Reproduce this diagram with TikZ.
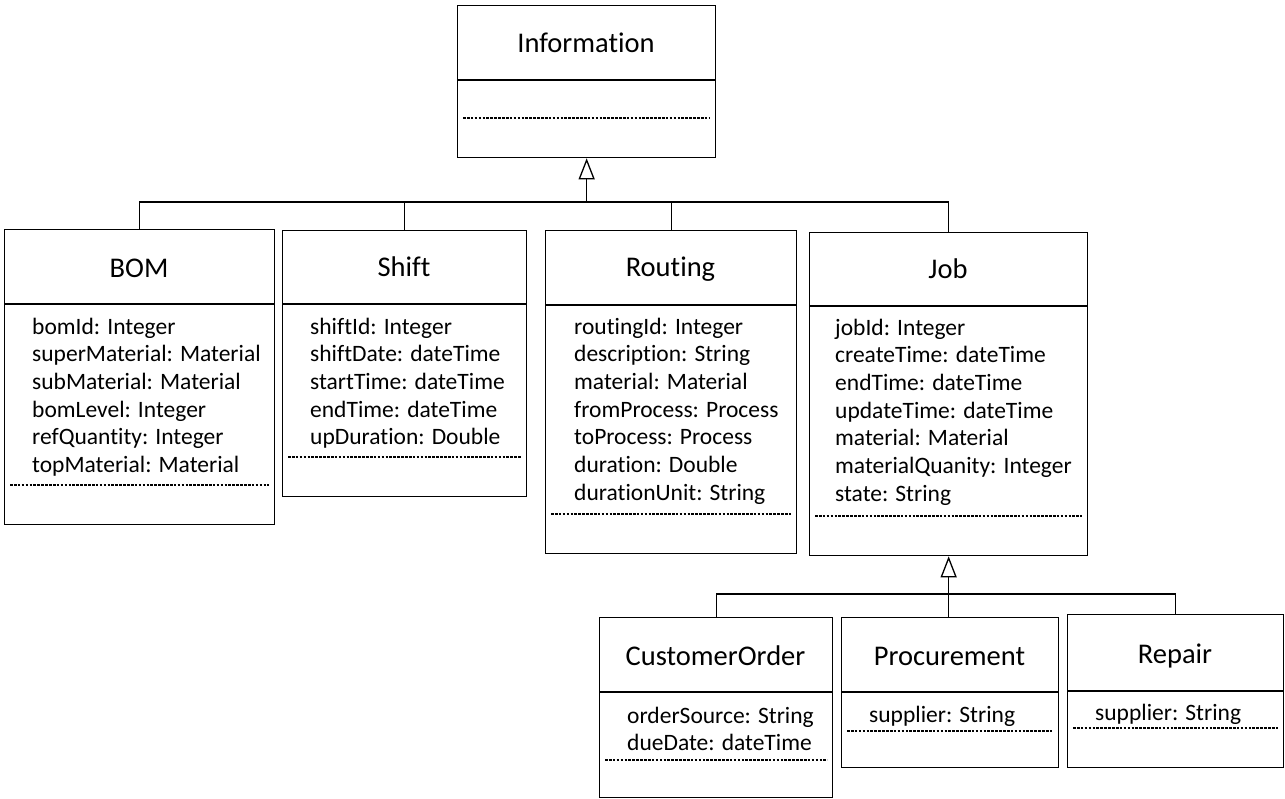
\documentclass[tikz,border=0pt]{standalone}
\usepackage{fontspec}
\setmainfont{Carlito}[Ligatures=CommonOff]
\usetikzlibrary{arrows.meta}

\tikzset{
  boxline/.style={draw=black, line width=1.3pt},
  classbox/.style={boxline, rectangle, inner sep=0pt, anchor=north west},
  classtitle/.style={inner sep=0pt, anchor=base, font=\fontsize{28.5}{32}\selectfont},
  attr/.style={inner sep=0pt, anchor=base west, font=\fontsize{23.5}{27}\selectfont},
  dotline/.style={draw=black, line width=1.1pt, dash pattern=on 2.6pt off 1.3pt},
  link/.style={draw=black, line width=1.3pt},
  inherit/.style={link, -{Triangle[open, length=21pt, width=16pt, line width=1.3pt]}}
}

% \classframe{name}{x1}{y1}{x2}{y2}{title baseline}{divider y}{dotted y}
\newcommand\classframe[8]{%
  \node[classbox, minimum width=#4pt-#2pt, minimum height=#5pt-#3pt] (#1) at (#2,#3) {};
  \draw[boxline] (#1.west |- 0,#7) -- (#1.east |- 0,#7);
  \draw[dotline] ([xshift=6pt]#1.west |- 0,#8) -- ([xshift=-6pt]#1.east |- 0,#8);
}
% \classattrs{name}{x}{first baseline}{list of attributes}
\newcommand\classattrs[4]{%
  \foreach \t [count=\i] in {#4}
    \node[attr] (#1-a\i) at (#2,{#3+(\i-1)*27.7}) {\t};
}

\begin{document}
\begin{tikzpicture}[x=1pt, y=-1pt]
  \useasboundingbox (0,0) rectangle (1285,798);

  % base class
  \classframe{info}{457}{5}{715}{157}{52}{80}{118}
  \node[classtitle] (info-t) at (586,52) {Information};

  % first level of subclasses
  \classframe{bom}{4}{229}{274}{524}{277}{304}{485}
  \node[classtitle] (bom-t) at (139,277) {BOM};
  \classattrs{bom}{32}{334}{bomId: Integer, superMaterial: Material, subMaterial: Material, bomLevel: Integer, refQuantity: Integer, topMaterial: Material}

  \classframe{shift}{282}{230}{526}{496}{276}{304}{457}
  \node[classtitle] (shift-t) at (404,276) {Shift};
  \classattrs{shift}{310}{334}{shiftId: Integer, shiftDate: dateTime, startTime: dateTime, endTime: dateTime, upDuration: Double}

  \classframe{routing}{545}{230}{796}{553}{276}{305}{514}
  \node[classtitle] (routing-t) at (670.5,276) {Routing};
  \classattrs{routing}{574}{334}{routingId: Integer, description: String, material: Material, fromProcess: Process, toProcess: Process, duration: Double, durationUnit: String}

  \classframe{job}{809}{232}{1087}{555}{278}{306}{516}
  \node[classtitle] (job-t) at (948,278) {Job};
  \classattrs{job}{835}{335}{jobId: Integer, createTime: dateTime, endTime: dateTime, updateTime: dateTime, material: Material, materialQuanity: Integer, state: String}

  % subclasses of Job
  \classframe{co}{599}{617}{832}{797}{665}{692}{760}
  \node[classtitle] (co-t) at (715.5,665) {CustomerOrder};
  \classattrs{co}{627}{723}{orderSource: String, dueDate: dateTime}

  \classframe{proc}{841}{617}{1058}{767}{665}{692}{731}
  \node[classtitle] (proc-t) at (949.5,665) {Procurement};
  \classattrs{proc}{869}{722}{supplier: String}

  \classframe{repair}{1067}{614}{1283}{767}{663}{691}{728}
  \node[classtitle] (repair-t) at (1175,663) {Repair};
  \classattrs{repair}{1095}{720}{supplier: String}

  % generalisation to Information
  \coordinate (bus1) at (info.south |- 0,202);
  \draw[link] (bom.north) |- (bus1);
  \draw[link] (shift.north) |- (bus1);
  \draw[link] (routing.north) |- (bus1);
  \draw[link] (job.north) |- (bus1);
  \draw[inherit] (bus1) -- (info.south);

  % generalisation to Job
  \coordinate (bus2) at (job.south |- 0,594);
  \draw[link] (co.north) |- (bus2);
  \draw[link] (repair.north) |- (bus2);
  \draw[inherit] (job.south |- proc.north) -- (job.south);
\end{tikzpicture}
\end{document}
